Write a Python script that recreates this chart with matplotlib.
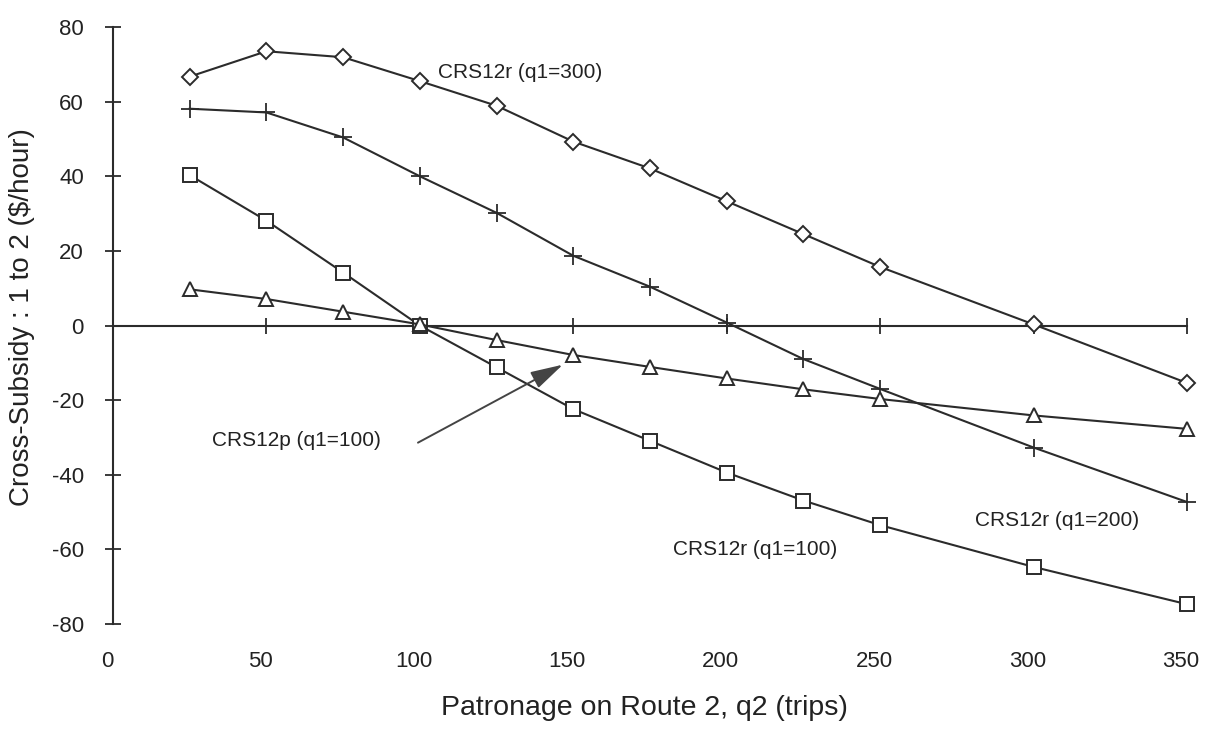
import matplotlib
matplotlib.use("Agg")
import matplotlib.pyplot as plt
from matplotlib.transforms import ScaledTranslation

plt.rcParams['font.family'] = ['Liberation Sans', 'DejaVu Sans']
plt.rcParams['axes.unicode_minus'] = False

# patronage on route 2 (trips)
q2 = [25, 50, 75, 100, 125, 150, 175, 200, 225, 250, 300, 350]

# cross-subsidy from route 1 to route 2 ($/hour)
crs12r_q300 = [66.7, 73.5, 71.9, 65.5, 58.9, 49.3, 42.1, 33.3, 24.5, 15.7, 0.3, -15.4]
crs12r_q200 = [58.1, 57.1, 50.4, 40.0, 30.2, 18.7, 10.4, 0.8, -9.0, -17.0, -32.7, -47.3]
crs12r_q100 = [40.3, 28.1, 14.2, 0.0, -11.2, -22.4, -30.9, -39.4, -46.9, -53.5, -64.7, -74.7]
crs12p_q100 = [9.7, 7.1, 3.7, 0.3, -3.9, -7.9, -11.1, -14.2, -17.1, -19.7, -24.1, -27.7]

xticks = [0, 50, 100, 150, 200, 250, 300, 350]
yticks = [-80, -60, -40, -20, 0, 20, 40, 60, 80]

ink = "#2b2b2b"

fig = plt.figure(figsize=(12.08, 7.30), dpi=100)
ax = fig.add_axes([0.0935, 0.1452, 0.8891, 0.8178])
ax.set_xlim(0, 350)
ax.set_ylim(-80, 80)

style = dict(color=ink, lw=1.5, mfc="white", mec=ink, clip_on=False, zorder=3)
ax.plot(q2, crs12r_q300, marker="D", ms=8.5, mew=1.4, **style)
ax.plot(q2, crs12r_q200, marker="+", ms=13, mew=1.3, **style)
ax.plot(q2, crs12r_q100, marker="s", ms=10, mew=1.4, **style)
ax.plot(q2, crs12p_q100, marker="^", ms=10, mew=1.4, **style)

# axes cross at the origin, x axis running along zero
for side in ["top", "right"]:
    ax.spines[side].set_visible(False)
ax.spines["bottom"].set_position(("data", 0))
ax.spines["bottom"].set_bounds(0, 350)
ax.spines["left"].set_bounds(-80, 80)
for side in ["bottom", "left"]:
    ax.spines[side].set_color(ink)
    ax.spines[side].set_linewidth(1.5)

ax.set_xticks(xticks)
ax.set_yticks(yticks)
ax.tick_params(axis="both", direction="inout", length=12, width=1.3,
               color=ink, labelcolor="#222222", labelsize=16)
ax.tick_params(axis="y", pad=15)
ax.tick_params(axis="x", pad=228)
for lab in ax.get_xticklabels():
    lab.set_transform(lab.get_transform() + ScaledTranslation(-6 / 100, 0, fig.dpi_scale_trans))

fig.text(644 / 1208, 1 - 708 / 730, "Patronage on Route 2, q2 (trips)",
         ha="center", va="center", fontsize=20.5, color="#222222")
fig.text(22 / 1208, 1 - 317 / 730, "Cross-Subsidy : 1 to 2 ($/hour)",
         ha="center", va="center", rotation=90, fontsize=20, color="#222222")

lab_kw = dict(fontsize=15, color="#222222", ha="left", va="center")
ax.text(105.9, 67.7, "CRS12r (q1=300)", **lab_kw)
ax.text(280.9, -52.3, "CRS12r (q1=200)", **lab_kw)
ax.text(182.5, -59.9, "CRS12r (q1=100)", **lab_kw)
ax.text(32.3, -30.9, "CRS12p (q1=100)", **lab_kw)
ax.annotate("", xy=(146.6, -10.5), xytext=(99.4, -31.4),
            arrowprops=dict(arrowstyle="-|>,head_length=0.8,head_width=0.22",
                            mutation_scale=25, color="#444444", lw=1.4,
                            shrinkA=0, shrinkB=0))

fig.savefig("out.png", dpi=100, facecolor="white")
